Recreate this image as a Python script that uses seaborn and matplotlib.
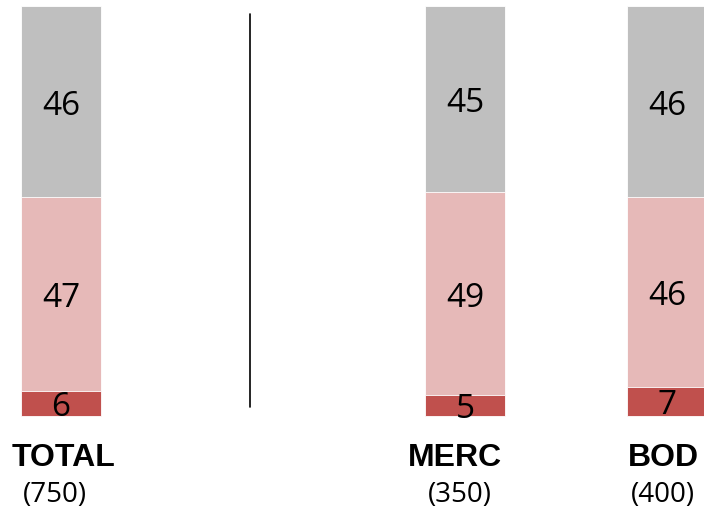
import matplotlib

matplotlib.use("Agg")

import matplotlib.pyplot as plt
import pandas as pd
import seaborn as sns

GROUPS = ["TOTAL", "MERC", "BOD"]
SAMPLE_SIZES = [750, 350, 400]
LOW = [6, 5, 7]
MID = [47, 49, 46]
HIGH = [46, 45, 46]

COLORS = {"low": "#C0504D", "mid": "#E6B9B8", "high": "#BFBFBF"}
ORDER = ["TOTAL", "gap", "MERC", "BOD"]
# small horizontal nudges for the labels under each bar (name, sample size)
LABEL_NUDGE = {"TOTAL": (0.01, -0.03), "MERC": (-0.05, -0.025), "BOD": (-0.02, -0.02)}

sns.set_theme(style="white")
plt.rcParams["font.family"] = ["Open Sans", "DejaVu Sans"]
plt.rcParams["text.color"] = "black"

df = pd.DataFrame({"group": GROUPS, "n": SAMPLE_SIZES, "low": LOW, "mid": MID, "high": HIGH})
df["cum_low"] = df["low"]
df["cum_mid"] = df["low"] + df["mid"]
df["cum_high"] = df["low"] + df["mid"] + df["high"]

fig = plt.figure(figsize=(7.04, 5.10), dpi=100)
ax = fig.add_axes([0, 0, 1, 1])

# stacked bars drawn as overlapping cumulative totals
for col, key in [("cum_high", "high"), ("cum_mid", "mid"), ("cum_low", "low")]:
    sns.barplot(data=df, x="group", y=col, order=ORDER, color=COLORS[key],
                width=0.4, saturation=1, ax=ax, edgecolor="white", linewidth=0.6)

for _, row in df.iterrows():
    xi = ORDER.index(row["group"])
    dx_name, dx_n = LABEL_NUDGE[row["group"]]
    ax.text(xi, row["low"] / 2 - 0.8, f"{row['low']}", ha="center", va="center", fontsize=24)
    ax.text(xi, row["low"] + row["mid"] / 2 - 0.9, f"{row['mid']}", ha="center", va="center", fontsize=24)
    ax.text(xi, row["cum_mid"] + row["high"] / 2 - 0.9, f"{row['high']}", ha="center", va="center", fontsize=24)
    ax.text(xi + dx_name, -10.0, row["group"], ha="center", va="center", fontsize=23,
            fontweight="bold", family="Liberation Sans")
    ax.text(xi + dx_n, -18.8, f"({row['n']})", ha="center", va="center", fontsize=20)

ax.plot([0.936, 0.936], [2.2, 97.1], color="black", linewidth=1.2)

ax.set_xlim(-0.302, 3.183)
ax.set_ylim(-22.46, 100.7)
ax.set_axis_off()

fig.savefig("out.png", dpi=100)
